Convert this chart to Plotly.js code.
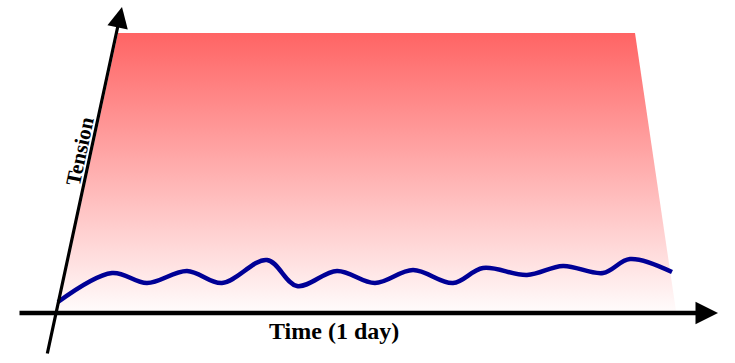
<!DOCTYPE html>
<html><head><meta charset="utf-8">
<script src="https://cdn.plot.ly/plotly-3.0.1.min.js"></script>
<style>html,body{margin:0;padding:0;background:#fff}#c{width:735px;height:363px}</style>
</head><body><div id="c"></div>
<script>
// Tension curve over one day (diagram units)
const time    = [58, 112, 147, 187, 222, 267, 297, 337, 375, 413, 453, 483, 527, 563, 603, 630, 672];
const tension = [61,  90,  80,  92,  80, 103,  77,  92,  80,  93,  80,  95,  88,  97,  90, 104,  91];
// Background band (trapezoid) corners
const bandX = [58, 118, 635, 676, 58];
const bandY = [52, 330, 330, 52, 52];
// Axis arrows: [tailX, tailY, headX, headY]
const timeAxis    = [18, 50, 718, 50];
const tensionAxis = [47, 8, 122, 356];
const xLabel = "Time (1 day)";
const yLabel = "Tension";

const traces = [
  {x: bandX, y: bandY, mode: 'lines', fill: 'toself', line: {width: 0, color: 'rgba(0,0,0,0)'},
   fillgradient: {type: 'vertical', colorscale: [[0, 'rgb(255,251,251)'], [1, 'rgb(255,100,100)']]},
   hoverinfo: 'skip'},
  {x: time, y: tension, mode: 'lines', line: {color: '#000096', width: 4.5, shape: 'spline', smoothing: 1}}
];

function arrow(a, w, s) {
  return {x: a[2], y: a[3], ax: a[0], ay: a[1], xref: 'x', yref: 'y', axref: 'x', ayref: 'y',
    text: '', showarrow: true, arrowhead: 2, arrowsize: s, arrowwidth: w, arrowcolor: '#000', standoff: 0, startstandoff: 0};
}

const layout = {
  width: 735, height: 363, margin: {l: 0, r: 0, t: 0, b: 0},
  paper_bgcolor: '#fff', plot_bgcolor: '#fff', showlegend: false,
  xaxis: {range: [0, 735], visible: false, fixedrange: true},
  yaxis: {range: [0, 363], visible: false, fixedrange: true},
  annotations: [
    arrow(timeAxis, 4.5, 1),
    arrow(tensionAxis, 3.2, 1.3),
    {x: 334, y: 32, xref: 'x', yref: 'y', text: '<b>' + xLabel + '</b>', showarrow: false,
     font: {family: 'Liberation Serif', size: 24, color: '#000'}},
    {x: 80, y: 212, xref: 'x', yref: 'y', text: '<b>' + yLabel + '</b>', showarrow: false, textangle: -78,
     font: {family: 'Liberation Serif', size: 21, color: '#000'}}
  ]
};
Plotly.newPlot('c', traces, layout, {displayModeBar: false, staticPlot: true});
</script></body></html>
